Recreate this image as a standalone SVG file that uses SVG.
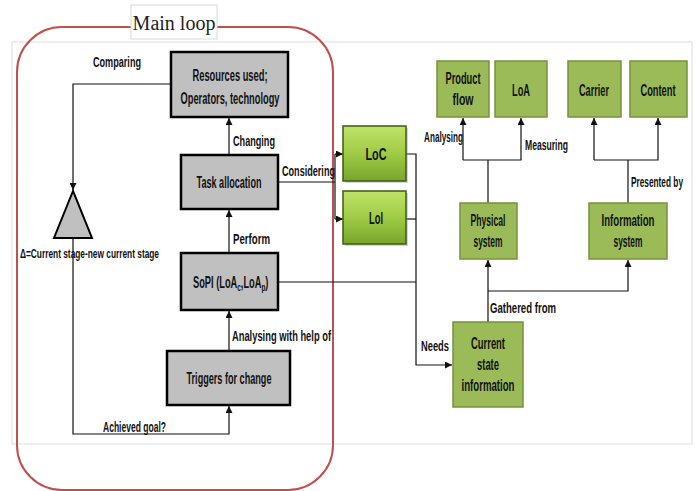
<svg xmlns="http://www.w3.org/2000/svg" width="698" height="491" viewBox="0 0 698 491">
<defs>
<style>
.t{font-family:"Liberation Sans Narrow","Liberation Sans",Arial,sans-serif;font-weight:bold;font-size:15px;fill:#111}
.b{font-size:16px}
.c{text-anchor:middle}
.gray{fill:#c0c0c0;stroke:#000;stroke-width:2.5}
.green{fill:#9bbb59;stroke:#77933c;stroke-width:1.5}
.lg{fill:url(#g);stroke:#3f5a17;stroke-width:1.5}
.ln{fill:none;stroke:#111;stroke-width:1.2}
</style>
<linearGradient id="g" x1="0" y1="0" x2="0" y2="1">
<stop offset="0" stop-color="#bfe36a"/>
<stop offset="0.5" stop-color="#9fcb45"/>
<stop offset="1" stop-color="#78a62c"/>
</linearGradient>
<marker id="a" viewBox="0 0 10 10" refX="10" refY="5" markerWidth="7" markerHeight="7" orient="auto" markerUnits="userSpaceOnUse">
<path d="M0,0 L10,5 L0,10 z" fill="#111"/>
</marker>
</defs>
<rect x="0" y="0" width="698" height="491" fill="#fff"/>
<rect x="12" y="42" width="680" height="402" fill="none" stroke="#dedede" stroke-width="1"/>
<rect x="17" y="27" width="316" height="463" rx="45" fill="none" stroke="#c0504d" stroke-width="2"/>
<g id="mainloop">
<rect x="131" y="5" width="86" height="34" fill="#fff" stroke="#d8d8d8" stroke-width="1"/>
<text x="174" y="30" font-family="Liberation Serif,serif" font-size="20" text-anchor="middle" fill="#222">Main loop</text>
</g>
<g id="connectors">
<polyline class="ln" points="171,84 73,84 73,190" marker-end="url(#a)"/>
<polyline class="ln" points="73,238 73,434 229,434 229,406" marker-end="url(#a)"/>
<line class="ln" x1="229" y1="155" x2="229" y2="118" marker-end="url(#a)"/>
<line class="ln" x1="229" y1="253" x2="229" y2="210" marker-end="url(#a)"/>
<line class="ln" x1="229" y1="351" x2="229" y2="311" marker-end="url(#a)"/>
<polyline class="ln" points="278,182 335,182"/>
<line class="ln" x1="335" y1="154" x2="335" y2="219"/>
<line class="ln" x1="335" y1="154" x2="343" y2="154" marker-end="url(#a)"/>
<line class="ln" x1="335" y1="219" x2="343" y2="219" marker-end="url(#a)"/>
<polyline class="ln" points="406,154 416,154 416,365 452,365" marker-end="url(#a)"/>
<line class="ln" x1="406" y1="219" x2="416" y2="219"/>
<line class="ln" x1="278" y1="282" x2="416" y2="282"/>
<line class="ln" x1="488" y1="322" x2="488" y2="260" marker-end="url(#a)"/>
<polyline class="ln" points="488,291 628,291 628,260" marker-end="url(#a)"/>
<line class="ln" x1="488" y1="203" x2="488" y2="160"/>
<polyline class="ln" points="463,160 463,118" marker-end="url(#a)"/>
<polyline class="ln" points="463,160 521,160 521,118" marker-end="url(#a)"/>
<line class="ln" x1="628" y1="203" x2="628" y2="160"/>
<polyline class="ln" points="594,160 594,118" marker-end="url(#a)"/>
<polyline class="ln" points="594,160 658,160 658,118" marker-end="url(#a)"/>
<text class="t" x="93" y="67" textLength="48" lengthAdjust="spacingAndGlyphs">Comparing</text>
<text class="t" x="233" y="146" textLength="42" lengthAdjust="spacingAndGlyphs">Changing</text>
<text class="t" x="282" y="176" textLength="53" lengthAdjust="spacingAndGlyphs">Considering</text>
<text class="t" x="233" y="244" textLength="37" lengthAdjust="spacingAndGlyphs">Perform</text>
<text class="t" x="232" y="341" textLength="99" lengthAdjust="spacingAndGlyphs">Analysing  with help of</text>
<text class="t" x="103" y="432" textLength="63" lengthAdjust="spacingAndGlyphs">Achieved goal?</text>
<text class="t" x="421" y="351" textLength="28" lengthAdjust="spacingAndGlyphs">Needs</text>
<text class="t" x="490" y="313" textLength="66" lengthAdjust="spacingAndGlyphs">Gathered from</text>
<text class="t" x="424" y="142" textLength="39" lengthAdjust="spacingAndGlyphs">Analysing</text>
<text class="t" x="525" y="150" textLength="43" lengthAdjust="spacingAndGlyphs">Measuring</text>
<text class="t" x="631" y="187" textLength="52" lengthAdjust="spacingAndGlyphs">Presented by</text>
</g>
<g id="delta">
<polygon points="73,191 54,238 92,238" fill="#c0c0c0" stroke="#000" stroke-width="2"/>
<text class="t" x="20" y="258" style="font-size:13px" textLength="139" lengthAdjust="spacingAndGlyphs">Δ=Current stage-new current stage</text>
</g>
<g id="resources">
<rect class="gray" x="171" y="52" width="117" height="65"/>
<text class="t b c" x="230" y="81" textLength="75" lengthAdjust="spacingAndGlyphs">Resources used;</text>
<text class="t b c" x="230" y="104" textLength="99" lengthAdjust="spacingAndGlyphs">Operators, technology</text>
</g>
<g id="task">
<rect class="gray" x="181" y="155" width="97" height="54"/>
<text class="t b c" x="229" y="188" textLength="65" lengthAdjust="spacingAndGlyphs">Task allocation</text>
</g>
<g id="sopi">
<rect class="gray" x="181" y="253" width="97" height="57"/>
<text class="t b" transform="translate(193,288) scale(0.58,1)" x="0" y="0">SoPI (LoA<tspan font-size="11" dy="3">c</tspan><tspan dy="-3">,LoA</tspan><tspan font-size="11" dy="3">p</tspan><tspan dy="-3">)</tspan></text>
</g>
<g id="triggers">
<rect class="gray" x="167" y="351" width="123" height="54"/>
<text class="t b c" x="229" y="384" textLength="85" lengthAdjust="spacingAndGlyphs">Triggers for change</text>
</g>
<g id="loc">
<rect x="345" y="128" width="63" height="55" fill="#8a8a8a" opacity="0.35"/>
<rect class="lg" x="343" y="126" width="63" height="55"/>
<text class="t b c" x="376" y="160" textLength="21" lengthAdjust="spacingAndGlyphs">LoC</text>
</g>
<g id="loi">
<rect x="345" y="193" width="63" height="53" fill="#8a8a8a" opacity="0.35"/>
<rect class="lg" x="343" y="191" width="63" height="53"/>
<text class="t b c" x="376" y="224" textLength="14" lengthAdjust="spacingAndGlyphs">LoI</text>
</g>
<g id="current">
<rect class="green" x="453" y="322" width="70" height="85"/>
<text class="t b c" x="488" y="349" textLength="34" lengthAdjust="spacingAndGlyphs">Current</text>
<text class="t b c" x="488" y="370" textLength="22" lengthAdjust="spacingAndGlyphs">state</text>
<text class="t b c" x="488" y="391" textLength="53" lengthAdjust="spacingAndGlyphs">information</text>
</g>
<g id="physical">
<rect class="green" x="460" y="203" width="57" height="56"/>
<text class="t b c" x="488" y="226" textLength="35" lengthAdjust="spacingAndGlyphs">Physical</text>
<text class="t b c" x="488" y="247" textLength="29" lengthAdjust="spacingAndGlyphs">system</text>
</g>
<g id="information">
<rect class="green" x="589" y="203" width="78" height="56"/>
<text class="t b c" x="628" y="226" textLength="53" lengthAdjust="spacingAndGlyphs">Information</text>
<text class="t b c" x="628" y="247" textLength="29" lengthAdjust="spacingAndGlyphs">system</text>
</g>
<g id="product">
<rect class="green" x="437" y="61" width="52" height="56"/>
<text class="t b c" x="463" y="84" textLength="35" lengthAdjust="spacingAndGlyphs">Product</text>
<text class="t b c" x="463" y="105" textLength="21" lengthAdjust="spacingAndGlyphs">flow</text>
</g>
<g id="loa">
<rect class="green" x="495" y="61" width="52" height="56"/>
<text class="t b c" x="521" y="96" textLength="18" lengthAdjust="spacingAndGlyphs">LoA</text>
</g>
<g id="carrier">
<rect class="green" x="568" y="61" width="53" height="56"/>
<text class="t b c" x="594" y="96" textLength="30" lengthAdjust="spacingAndGlyphs">Carrier</text>
</g>
<g id="content">
<rect class="green" x="630" y="61" width="57" height="56"/>
<text class="t b c" x="658" y="96" textLength="35" lengthAdjust="spacingAndGlyphs">Content</text>
</g>
</svg>
